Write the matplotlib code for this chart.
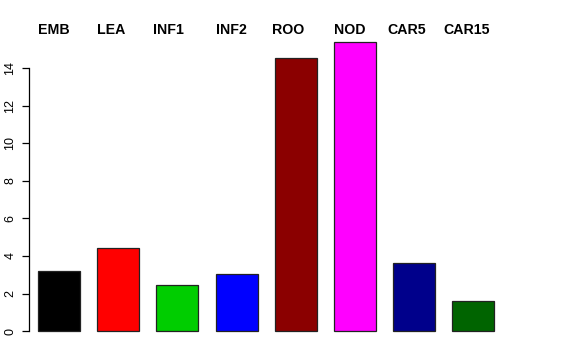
import matplotlib
matplotlib.use('Agg')
import matplotlib.pyplot as plt
import matplotlib.transforms as mtransforms
import numpy as np

plt.rcParams['font.family'] = ['Liberation Sans', 'DejaVu Sans']

# 数据
categories = ['EMB', 'LEA', 'INF1', 'INF2', 'ROO', 'NOD', 'CAR5', 'CAR15']
values = [3.18, 4.42, 2.44, 3.05, 14.55, 15.40, 3.65, 1.61]
colors = ['black', 'red', '#00CD00', 'blue', '#8B0000', 'magenta', '#00008B', '#006400']
y_ticks = [0, 2, 4, 6, 8, 10, 12, 14]

W, H = 576, 360
fig = plt.figure(figsize=(W / 100, H / 100), dpi=100)
# 绘图区（像素换算）
left_px, right_px, top_px, bottom_px = 29, 513, 30.3, 342.6
ax = fig.add_axes([left_px / W, 1 - bottom_px / H,
                   (right_px - left_px) / W, (bottom_px - top_px) / H])

x = np.arange(len(categories))
bar_w = 0.71
ax.bar(x, values, width=bar_w, color=colors, edgecolor='#222222', linewidth=0.9)

ax.set_xlim(-0.507, 7.67)
ax.set_ylim(-0.616, 16.03)

for s in ['top', 'right', 'bottom']:
    ax.spines[s].set_visible(False)
ax.spines['left'].set_bounds(0, 14)
ax.spines['left'].set_linewidth(0.9)
ax.set_xticks([])
ax.set_yticks(y_ticks)
ax.set_yticklabels([str(t) for t in y_ticks], rotation=90, va='center', fontsize=9)
ax.tick_params(axis='y', direction='out', length=5.2, width=0.9, pad=4)

# 顶部名称（左对齐于各柱左边缘，后两个略向左）
name_shift = [0, 0, -0.05, 0, -0.05, 0, -0.1, -0.15]
trans = mtransforms.blended_transform_factory(ax.transData, fig.transFigure)
for xi, name, dx in zip(x, categories, name_shift):
    ax.text(xi - bar_w / 2 + dx, 1 - 34 / H, name, transform=trans, ha='left',
            va='baseline', fontsize=10.2, fontweight='bold', clip_on=False)

fig.savefig('out.png', dpi=100, facecolor='white')
